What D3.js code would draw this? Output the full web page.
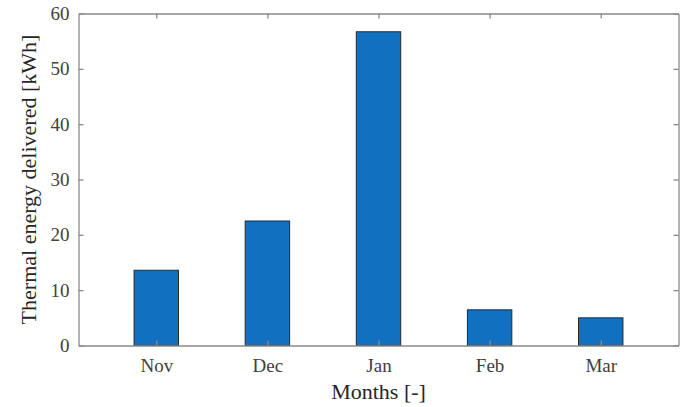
<!DOCTYPE html>
<html><head><meta charset="utf-8">
<script src="https://cdn.jsdelivr.net/npm/d3@7"></script>
<style>
body{margin:0;background:#fff}
svg{display:block}
svg text{font-family:"Liberation Serif","Times New Roman",Times,serif !important}
</style>
</head><body><svg id="c" width="687" height="407"></svg>
<script>
const categories = ["Nov", "Dec", "Jan", "Feb", "Mar"];
const values = [13.6, 22.5, 56.7, 6.45, 5.0];
const yTicks = [0, 10, 20, 30, 40, 50, 60];
const xLabel = "Months [-]";
const yLabel = "Thermal energy delivered [kWh]";

const svg = d3.select("#c");
const L = 78.5, R = 678.5, T = 13.5, B = 345.5;
const axisColor = "#8a8a8a", textColor = "#404040";

const x = d3.scaleLinear().domain([0.3, 5.7]).range([L, R]);
const y = d3.scaleLinear().domain([0, 60]).range([B, T]);
const bw = x(1.4) - x(1);

svg.append("g").selectAll("rect").data(values).join("rect")
  .attr("x", (d, i) => x(i + 1) - bw / 2)
  .attr("y", d => y(d))
  .attr("width", bw)
  .attr("height", d => y(0) - y(d))
  .attr("fill", "#1170bf")
  .attr("stroke", "#2a2a2a")
  .attr("stroke-width", 1);

const tl = 5;
const gx = svg.append("g").attr("transform", `translate(0,${B})`)
  .call(d3.axisBottom(x).tickValues([1,2,3,4,5]).tickFormat((d) => categories[d-1]).tickSizeInner(-tl).tickSizeOuter(0).tickPadding(13));
const gxt = svg.append("g").attr("transform", `translate(0,${T})`)
  .call(d3.axisTop(x).tickValues([1,2,3,4,5]).tickFormat("").tickSizeInner(-tl).tickSizeOuter(0));
const gy = svg.append("g").attr("transform", `translate(${L},0)`)
  .call(d3.axisLeft(y).tickValues(yTicks).tickSizeInner(-tl).tickSizeOuter(0).tickPadding(9));
const gyr = svg.append("g").attr("transform", `translate(${R},0)`)
  .call(d3.axisRight(y).tickValues(yTicks).tickFormat("").tickSizeInner(-tl).tickSizeOuter(0));

[gx, gxt, gy, gyr].forEach(g => {
  g.attr("font-family", null).attr("font-size", null);
  g.selectAll("path.domain").attr("stroke", axisColor).attr("stroke-width", 1.3);
  g.selectAll(".tick line").attr("stroke", axisColor).attr("stroke-width", 1.3);
  g.selectAll("text").attr("fill", textColor).style("font-size", "19px");
});

svg.append("text").attr("x", (L + R) / 2).attr("y", 399)
  .attr("text-anchor", "middle").attr("fill", "#262626")
  .style("font-size", "22px").text(xLabel);
svg.append("text").attr("transform", `translate(36,${(T + B) / 2}) rotate(-90)`)
  .attr("text-anchor", "middle").attr("fill", "#262626")
  .style("font-size", "22px").text(yLabel);
</script></body></html>
